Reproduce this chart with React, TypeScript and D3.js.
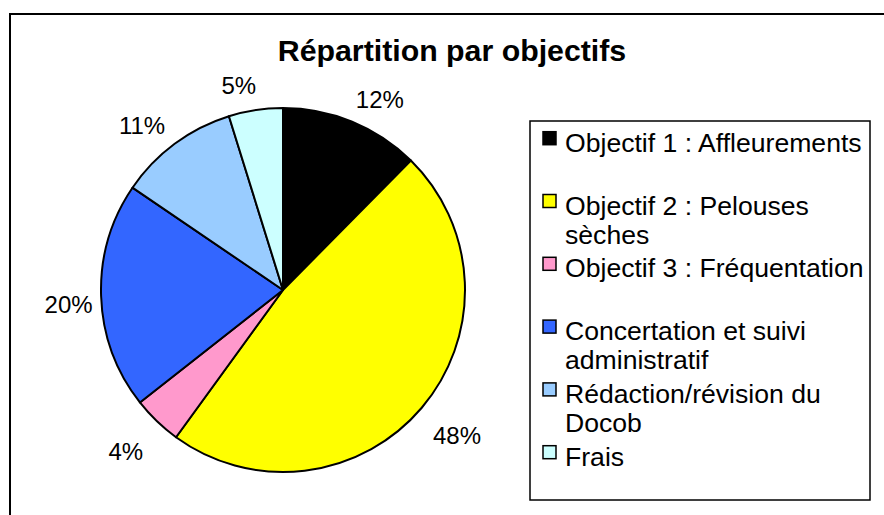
import React from "react";
import * as d3 from "d3";

const categories = [
  ["Objectif 1 : Affleurements"],
  ["Objectif 2 : Pelouses", "sèches"],
  ["Objectif 3 : Fréquentation"],
  ["Concertation et suivi", "administratif"],
  ["Rédaction/révision du", "Docob"],
  ["Frais"],
];
const values = [12.4, 47.6, 4.4, 20.1, 10.7, 4.8];
const colors = ["#000000", "#FFFF00", "#FF99CC", "#3366FF", "#99CCFF", "#CCFFFF"];
const title = "Répartition par objectifs";

const W = 884;
const H = 515;
const cx = 283;
const cy = 290;
const R = 182;
const FONT = "'Liberation Sans', Arial, sans-serif";

export default function App() {
  const total = d3.sum(values);
  const pie = d3.pie<number>().sort(null).value((d) => d);
  const arcs = pie(values);
  const arc = d3.arc<d3.PieArcDatum<number>>().innerRadius(0).outerRadius(R);

  const labelSize = 24;
  const legendX = 530;
  const legendY = 121;
  const legendW = 340;
  const legendH = 379;
  const firstBase = 151.7;
  const step = 62.8;
  const lineH = 29;

  return (
    <svg width={W} height={H} style={{ position: "absolute", left: 0, top: 0 }}>
      <rect x={0} y={0} width={W} height={H} fill="#fff" />
      <rect x={10} y={14} width={W + 20} height={H + 20} fill="#fff" stroke="#000" strokeWidth={2} />
      <text x={452} y={61} textAnchor="middle" fontFamily={FONT} fontWeight="bold" fontSize={30.3} fill="#000">
        {title}
      </text>
      <g transform={`translate(${cx},${cy})`}>
        {arcs.map((a, i) => (
          <path key={i} d={arc(a) || ""} fill={colors[i]} stroke="#000" strokeWidth={2} strokeLinejoin="round" />
        ))}
        {arcs.map((a, i) => {
          const th = (a.startAngle + a.endAngle) / 2;
          const s = Math.sin(th);
          const c = -Math.cos(th);
          const txt = `${Math.round((values[i] / total) * 100)}%`;
          const w = (txt.length - 1) * labelSize * 0.556 + labelSize * 0.889;
          const rr = 214;
          const x = rr * s + 0.35 * w * Math.sign(s) * Math.abs(c);
          const y = 7 + rr * c;
          return (
            <text
              key={i}
              x={x}
              y={y}
              dy="0.36em"
              textAnchor="middle"
              fontFamily={FONT}
              fontSize={labelSize}
              fill="#000"
            >
              {txt}
            </text>
          );
        })}
      </g>
      <rect x={legendX} y={legendY} width={legendW} height={legendH} fill="#fff" stroke="#000" strokeWidth={1.5} />
      {categories.map((lines, i) => {
        const base = firstBase + i * step;
        return (
          <g key={i}>
            <rect x={543} y={base - 20} width={13} height={13} fill={colors[i]} stroke="#000" strokeWidth={1.5} />
            {lines.map((l, j) => (
              <text key={j} x={565} y={base + j * lineH} fontFamily={FONT} fontSize={26.6} fill="#000">
                {l}
              </text>
            ))}
          </g>
        );
      })}
    </svg>
  );
}
